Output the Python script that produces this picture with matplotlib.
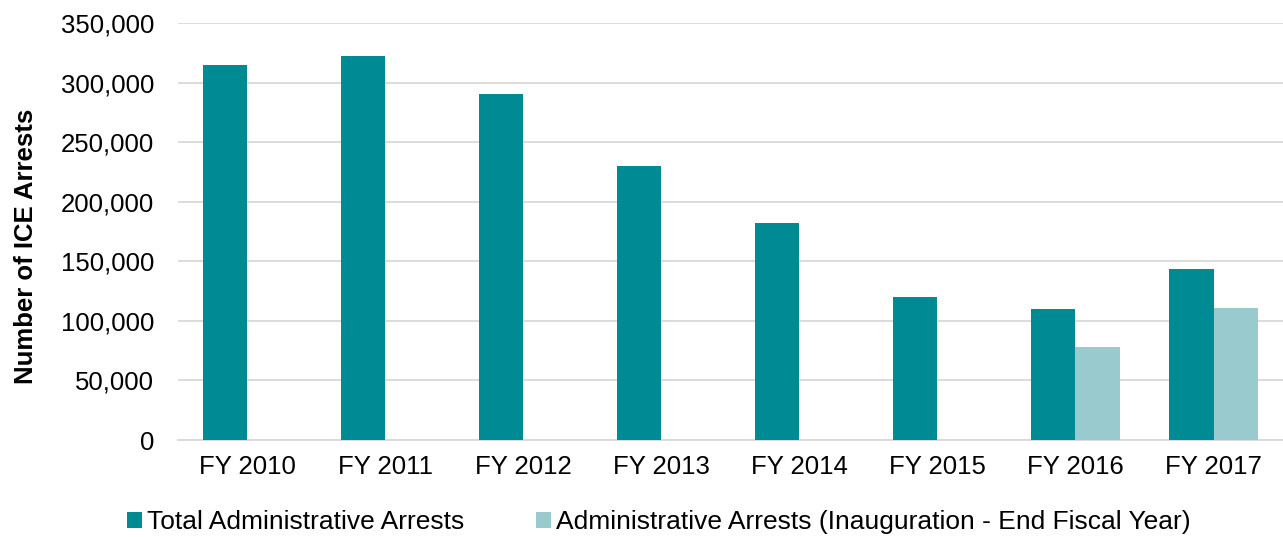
import numpy as np
import matplotlib
matplotlib.use("Agg")
from matplotlib import pyplot as plt
from matplotlib.ticker import FuncFormatter

plt.rcParams['font.family'] = ['Liberation Sans', 'DejaVu Sans']

years = ['FY 2010', 'FY 2011', 'FY 2012', 'FY 2013', 'FY 2014', 'FY 2015', 'FY 2016', 'FY 2017']
total_arrests = [314745, 322093, 290622, 229698, 181719, 119772, 110104, 143470]
inaug_arrests = [0, 0, 0, 0, 0, 0, 77806, 110568]

teal = '#008A94'
light = '#99CBCE'

fig = plt.figure(figsize=(12.83, 5.37), dpi=100)
ax = fig.add_axes([0.1387, 0.1806, 0.861, 0.7766])

x = np.arange(len(years))
w = 0.32
ax.bar(x - w / 2, total_arrests, w, color=teal, label='Total Administrative Arrests', zorder=3)
ax.bar(x + w / 2, inaug_arrests, w, color=light,
       label='Administrative Arrests (Inauguration - End Fiscal Year)', zorder=3)

ax.set_xlim(-0.5, len(years) - 0.5)
ax.set_ylim(0, 350000)
ax.set_yticks(np.arange(0, 350001, 50000))
ax.yaxis.set_major_formatter(FuncFormatter(lambda v, p: f'{int(v):,}'))
ax.set_xticks(x)
ax.set_xticklabels(years)

ax.grid(axis='y', color='#d9d9d9', linewidth=1.3, zorder=0)
for s in ['top', 'right', 'left']:
    ax.spines[s].set_visible(False)
ax.spines['bottom'].set_color('#d9d9d9')
ax.spines['bottom'].set_linewidth(1.3)
ax.tick_params(axis='both', length=0, labelsize=18.5, colors='#000000')
ax.tick_params(axis='y', pad=17)
ax.tick_params(axis='x', pad=11)

ax.set_ylabel('Number of ICE Arrests', fontsize=18.5, fontweight='bold')
ax.yaxis.set_label_coords(-0.127, 0.465)

fig.legend(loc='center left', bbox_to_anchor=(0.099, 0.028), ncol=2, frameon=False,
           fontsize=19, handlelength=0.57, handleheight=0.57, handletextpad=0.2,
           columnspacing=2.7, borderpad=0, borderaxespad=0)

fig.savefig('out.png', dpi=100)
